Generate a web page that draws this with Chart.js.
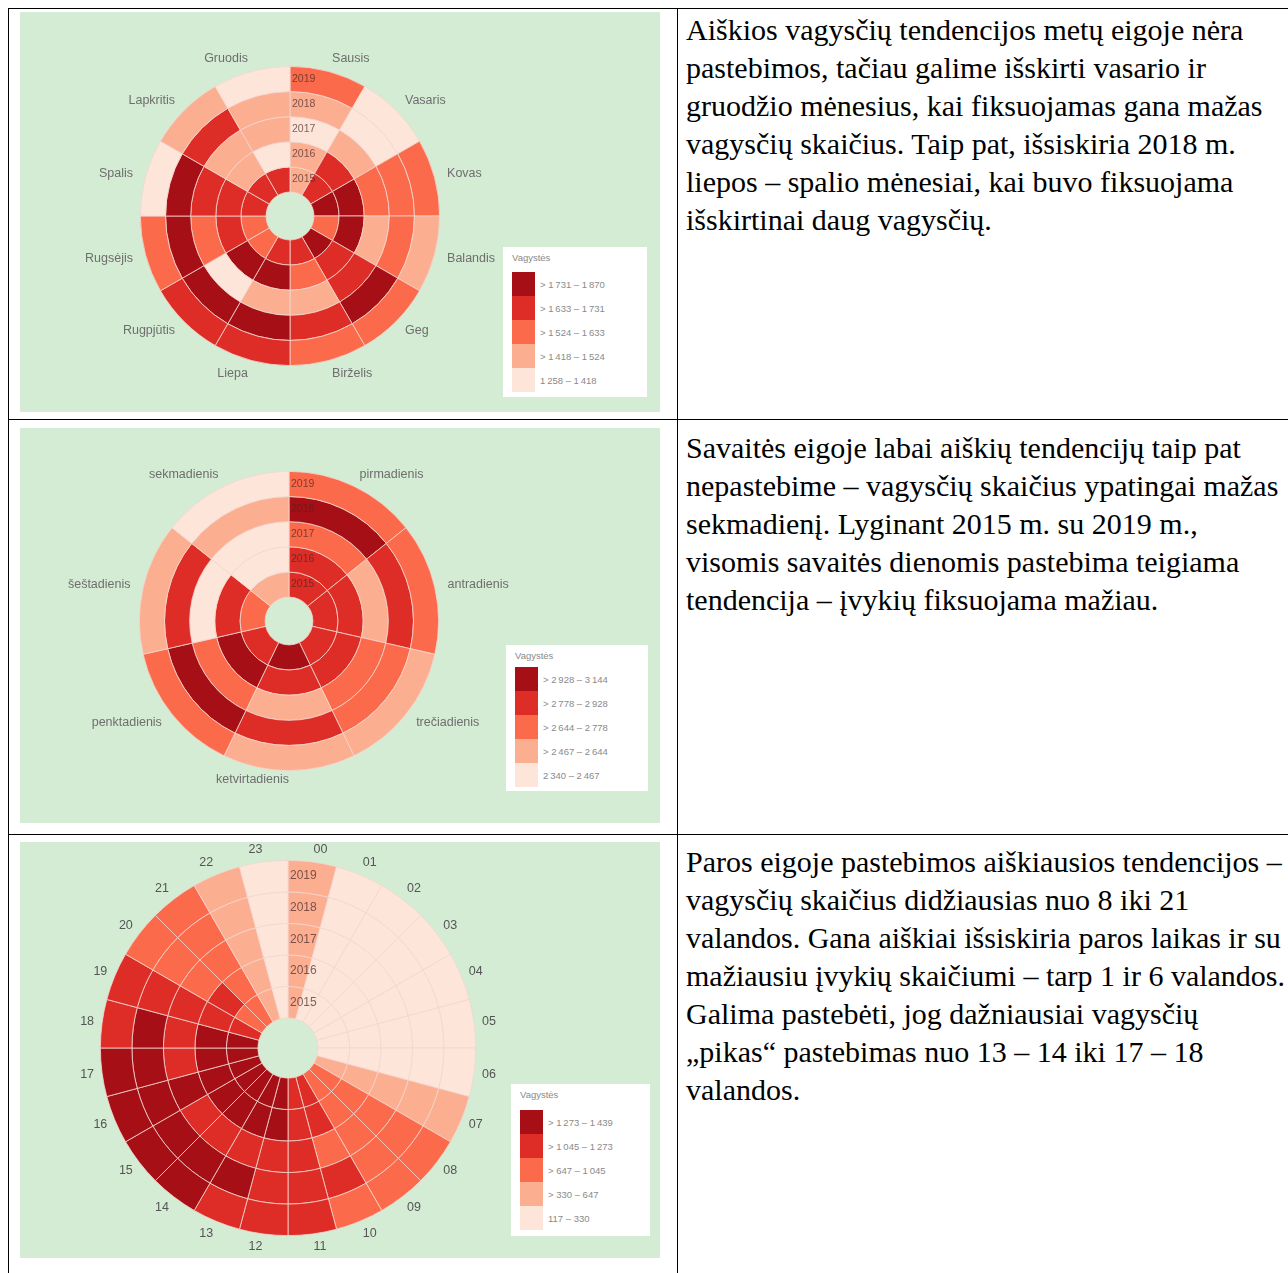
<!DOCTYPE html>
<html>
<head>
<meta charset="utf-8">
<script src="https://cdn.jsdelivr.net/npm/chart.js@4.4.1/dist/chart.umd.min.js"></script>
<style>
  body { margin: 0; background: #fff; }
  #page { position: relative; width: 1288px; height: 1273px; overflow: hidden; }
  .line { position: absolute; background: #000; }
  .panel { position: absolute; left: 20px; width: 640px; background: #d4ebd4; }
  .panel canvas { position: absolute; left: 0; top: 0; }
  .txt { position: absolute; left: 686px; font-family: "Times New Roman", "Liberation Serif", serif;
         font-size: 30px; line-height: 38px; color: #000; white-space: nowrap; }
  .legend { position: absolute; background: #fff; font-family: "Liberation Sans", Arial, sans-serif;
            color: #8a8a8a; font-size: 9.5px; box-sizing: border-box; }
  .legend .ttl { position: absolute; left: 9px; top: 5px; }
  .legend .row { position: absolute; left: 9px; height: 24px; width: 130px; }
  .legend .sw { position: absolute; left: 0; top: 0; width: 23px; height: 100%; }
  .legend .lb { position: absolute; left: 28px; top: 50%; transform: translateY(-50%); }
</style>
</head>
<body>
<div id="page">
  <div class="line" style="left:8px;top:8px;width:1280px;height:1px"></div>
  <div class="line" style="left:8px;top:419px;width:1280px;height:1px"></div>
  <div class="line" style="left:8px;top:834px;width:1280px;height:1px"></div>
  <div class="line" style="left:8px;top:8px;width:1px;height:1265px"></div>
  <div class="line" style="left:677px;top:8px;width:1px;height:1265px"></div>

  <div class="panel" style="top:12px;height:400px"><canvas id="c1" width="640" height="400"></canvas></div>
  <div class="panel" style="top:428px;height:395px"><canvas id="c2" width="640" height="395"></canvas></div>
  <div class="panel" style="top:842px;height:416px"><canvas id="c3" width="640" height="416"></canvas></div>

  <div class="legend" id="lg1" style="left:503px;top:247px;width:144px;height:150px"></div>
  <div class="legend" id="lg2" style="left:506px;top:645px;width:142px;height:146px"></div>
  <div class="legend" id="lg3" style="left:511px;top:1084px;width:139px;height:152px"></div>

  <div class="txt" style="top:11px">Aiškios vagysčių tendencijos metų eigoje nėra<br>pastebimos, tačiau galime išskirti vasario ir<br>gruodžio mėnesius, kai fiksuojamas gana mažas<br>vagysčių skaičius. Taip pat, išsiskiria 2018 m.<br>liepos – spalio mėnesiai, kai buvo fiksuojama<br>išskirtinai daug vagysčių.</div>
  <div class="txt" style="top:429px">Savaitės eigoje labai aiškių tendencijų taip pat<br>nepastebime – vagysčių skaičius ypatingai mažas<br>sekmadienį. Lyginant 2015 m. su 2019 m.,<br>visomis savaitės dienomis pastebima teigiama<br>tendencija – įvykių fiksuojama mažiau.</div>
  <div class="txt" style="top:843px">Paros eigoje pastebimos aiškiausios tendencijos –<br>vagysčių skaičius didžiausias nuo 8 iki 21<br>valandos. Gana aiškiai išsiskiria paros laikas ir su<br>mažiausiu įvykių skaičiumi – tarp 1 ir 6 valandos.<br>Galima pastebėti, jog dažniausiai vagysčių<br>„pikas“ pastebimas nuo 13 – 14 iki 17 – 18<br>valandos.</div>
</div>

<script>
// colour classes (light -> dark) and ring order (outer -> inner)
const palette = ['#fee5d9', '#fcae91', '#fb6a4a', '#de2d26', '#a50f15'];
const years = ['2019', '2018', '2017', '2016', '2015'];

// --- months ---
const months = ['Sausis', 'Vasaris', 'Kovas', 'Balandis', 'Geg', 'Birželis', 'Liepa', 'Rugpjūtis', 'Rugsėjis', 'Spalis', 'Lapkritis', 'Gruodis'];
const month2019 = [1590, 1312, 1602, 1489, 1571, 1617, 1668, 1702, 1560, 1397, 1452, 1258];
const month2018 = [1503, 1349, 1548, 1585, 1776, 1695, 1870, 1838, 1801, 1794, 1712, 1436];
const month2017 = [1405, 1432, 1611, 1517, 1659, 1476, 1508, 1388, 1629, 1721, 1495, 1463];
const month2016 = [1447, 1647, 1753, 1769, 1684, 1538, 1745, 1812, 1690, 1706, 1521, 1364];
const month2015 = [1482, 1641, 1760, 1596, 1738, 1675, 1652, 1579, 1566, 1717, 1689, 1643];
const monthBreaks = [1258, 1418, 1524, 1633, 1731, 1870];

// --- weekdays ---
const days = ['pirmadienis', 'antradienis', 'trečiadienis', 'ketvirtadienis', 'penktadienis', 'šeštadienis', 'sekmadienis'];
const day2019 = [2712, 2690, 2598, 2621, 2744, 2533, 2340];
const day2018 = [3012, 2861, 2758, 2893, 2967, 2806, 2502];
const day2017 = [2731, 2615, 2702, 2577, 2766, 2452, 2398];
const day2016 = [2874, 2842, 2897, 2910, 3144, 2825, 2431];
const day2015 = [2903, 2851, 2886, 3058, 2919, 2683, 2559];
const dayBreaks = [2340, 2467, 2644, 2778, 2928, 3144];

// --- hours ---
const hours = ['00', '01', '02', '03', '04', '05', '06', '07', '08', '09', '10', '11', '12', '13', '14', '15', '16', '17', '18', '19', '20', '21', '22', '23'];
const hour2019 = [512, 302, 241, 178, 131, 146, 264, 538, 842, 968, 1027, 1121, 1198, 1247, 1286, 1301, 1312, 1293, 1238, 1143, 985, 812, 571, 309];
const hour2018 = [548, 318, 256, 190, 142, 158, 281, 566, 889, 1012, 1068, 1158, 1236, 1296, 1342, 1367, 1389, 1376, 1318, 1209, 1034, 858, 604, 326];
const hour2017 = [497, 296, 233, 171, 117, 137, 259, 521, 817, 943, 1003, 1087, 1164, 1215, 1259, 1262, 1281, 1254, 1206, 1112, 952, 779, 548, 287];
const hour2016 = [575, 324, 262, 186, 138, 151, 292, 597, 921, 1031, 1092, 1189, 1288, 1331, 1369, 1398, 1425, 1407, 1349, 1251, 1071, 886, 627, 318];
const hour2015 = [603, 327, 270, 199, 149, 163, 305, 612, 948, 1040, 1104, 1203, 1302, 1347, 1384, 1411, 1439, 1420, 1365, 1262, 1038, 903, 641, 328];
const hourBreaks = [117, 330, 647, 1045, 1273, 1439];

function binColor(v, breaks) {
  for (let i = 1; i < breaks.length - 1; i++) {
    if (v <= breaks[i]) return palette[i - 1];
  }
  return palette[palette.length - 1];
}

function fmt(n) {
  return String(n).replace(/\B(?=(\d{3})+(?!\d))/g, '\u2009');
}

// year names on the rings + category names round the outside
const ringLabels = {
  id: 'ringLabels',
  afterDatasetsDraw(chart, args, opts) {
    const ctx = chart.ctx;
    ctx.save();
    ctx.font = opts.yearFont;
    ctx.fillStyle = opts.yearColor;
    ctx.textAlign = 'left';
    ctx.textBaseline = 'middle';
    chart.data.datasets.forEach((ds, i) => {
      const arc = chart.getDatasetMeta(i).data[0];
      const r = (arc.innerRadius + arc.outerRadius) / 2;
      ctx.fillText(ds.label, arc.x + 2, arc.y - r);
    });
    ctx.font = opts.catFont;
    ctx.fillStyle = opts.catColor;
    chart.getDatasetMeta(0).data.forEach((arc, j) => {
      const a = (arc.startAngle + arc.endAngle) / 2;
      const s = Math.sin(a);
      const c = Math.cos(a);
      const rr = arc.outerRadius + opts.offset - (s > 0.99 ? opts.pull : 0);
      ctx.textAlign = c > 0.001 ? 'left' : 'right';
      ctx.fillText(chart.data.labels[j], arc.x + c * rr, arc.y + s * rr + s * opts.vpush);
    });
    ctx.restore();
  }
};

function makeChart(id, cats, series, breaks, padding, opts) {
  return new Chart(document.getElementById(id), {
    type: 'doughnut',
    data: {
      labels: cats,
      datasets: series.map((vals, i) => ({
        label: years[i],
        data: cats.map(() => 1),
        backgroundColor: vals.map(v => binColor(v, breaks)),
        borderColor: '#f2d6d0',
        borderWidth: 0.8
      }))
    },
    options: {
      responsive: false,
      animation: false,
      cutout: '16%',
      layout: { padding: padding },
      plugins: {
        legend: { display: false },
        tooltip: { enabled: false },
        ringLabels: opts
      }
    },
    plugins: [ringLabels]
  });
}

function makeLegend(id, breaks, rowTop) {
  const box = document.getElementById(id);
  let html = '<div class="ttl">Vagystės</div>';
  for (let k = palette.length - 1; k >= 0; k--) {
    const lo = fmt(breaks[k]), hi = fmt(breaks[k + 1]);
    const txt = (k > 0 ? '&gt; ' : '') + lo + ' – ' + hi;
    const top = rowTop + (palette.length - 1 - k) * 24;
    html += '<div class="row" style="top:' + top + 'px"><div class="sw" style="background:' + palette[k] + '"></div><div class="lb">' + txt + '</div></div>';
  }
  box.innerHTML = html;
}

const smallLabels = {
  yearFont: '10.5px "Liberation Sans", Arial', yearColor: 'rgba(70,40,40,0.7)',
  catFont: '12.5px "Liberation Sans", Arial', catColor: '#6e6e6e', offset: 13, vpush: 0, pull: 0
};

makeChart('c1', months, [month2019, month2018, month2017, month2016, month2015], monthBreaks,
  { left: 120, top: 54, right: 220, bottom: 46 }, smallLabels);

makeChart('c2', days, [day2019, day2018, day2017, day2016, day2015], dayBreaks,
  { left: 119, top: 43, right: 221, bottom: 52 }, Object.assign({}, smallLabels, { pull: 4 }));

makeChart('c3', hours, [hour2019, hour2018, hour2017, hour2016, hour2015], hourBreaks,
  { left: 80, top: 18, right: 184, bottom: 22 },
  { yearFont: '12px "Liberation Sans", Arial', yearColor: 'rgba(70,40,40,0.7)', catFont: '12.5px "Liberation Sans", Arial', catColor: '#555', offset: 8, vpush: 5, pull: 0 });

makeLegend('lg1', monthBreaks, 25);
makeLegend('lg2', dayBreaks, 22);
makeLegend('lg3', hourBreaks, 26);
</script>
</body>
</html>
